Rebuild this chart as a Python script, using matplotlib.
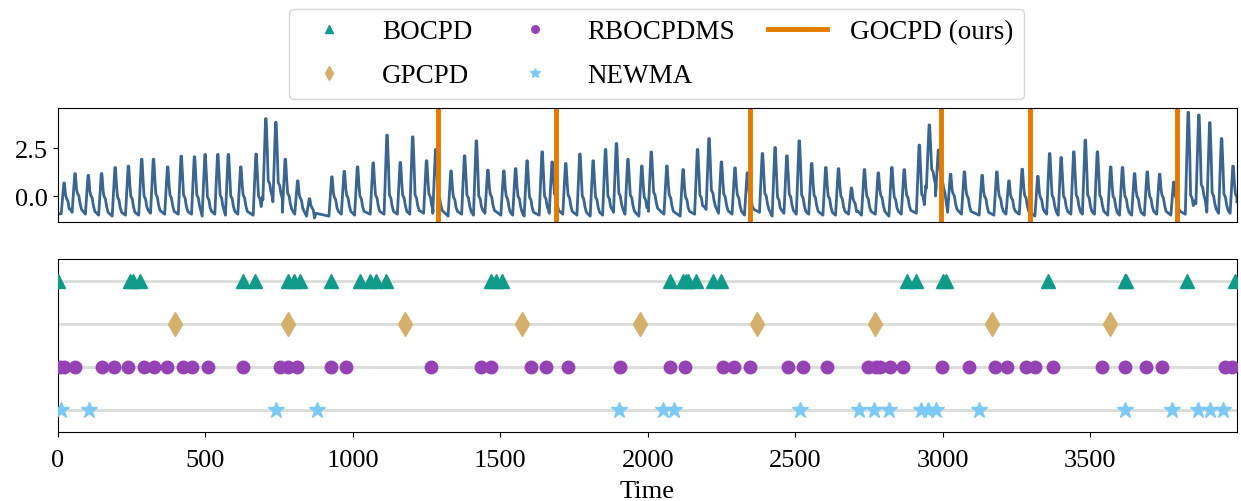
import numpy as np
import matplotlib.pyplot as plt
from matplotlib.lines import Line2D

plt.rcParams['font.family'] = ['Liberation Serif', 'DejaVu Serif']
plt.rcParams['font.size'] = 19

### Data

# daily peaks of the series (time, peak value, trough value just before the peak)
peak_time = [21, 58, 103, 148, 194, 239, 284, 324, 372, 418, 463, 499, 542, 578, 620, 672,
             705, 739, 771, 813, 853, 929, 971, 1016, 1069, 1116, 1161, 1203, 1250, 1281,
             1333, 1379, 1419, 1458, 1512, 1552, 1591, 1642, 1676, 1722, 1770, 1815, 1857,
             1894, 1933, 1980, 2012, 2065, 2120, 2169, 2208, 2250, 2296, 2338, 2389, 2432,
             2472, 2514, 2556, 2604, 2647, 2691, 2735, 2782, 2828, 2870, 2921, 2955, 2986,
             3027, 3074, 3134, 3184, 3225, 3270, 3323, 3363, 3402, 3445, 3484, 3525, 3570,
             3610, 3651, 3694, 3736, 3784, 3833, 3869, 3906, 3946, 3985]
peak_value = [0.68, 1.17, 1.08, 1.17, 1.49, 1.56, 1.92, 1.92, 1.52, 2.08, 2.05, 2.17, 2.17,
              2.17, 1.52, 2.19, 4.04, 3.85, 1.92, 0.79, -0.14, 1.00, 1.29, 1.52, 1.73, 3.18,
              1.75, 3.09, 1.84, 2.43, 1.31, 2.10, 2.88, 1.35, 1.31, 1.43, 1.84, 2.31, 1.78,
              1.70, 2.19, 1.84, 2.43, 2.74, 1.92, 1.57, 2.30, 1.57, 1.38, 2.43, 3.00, 1.78,
              1.47, 1.21, 2.22, 2.53, 2.10, 2.88, 1.70, 1.49, 1.43, 0.42, 1.38, 1.21, 1.49,
              1.38, 2.66, 3.71, 2.40, 1.14, 1.26, 1.08, 1.26, 0.79, 1.40, 1.03, 2.22, 2.01,
              2.31, 2.92, 2.31, 1.52, 1.49, 1.17, 1.26, 1.14, 0.73, 4.37, 4.23, 3.83, 3.00, 1.56]
trough_value = [-0.93, -0.85, -0.95, -1.0, -1.05, -1.0, -1.0, -0.9, -0.95, -0.95, -0.95, -1.05,
                -0.95, -1.0, -0.95, -1.0, -0.2, -0.3, -0.85, -0.95, -1.05, -1.05, -0.95, -1.0,
                -0.95, -0.95, -0.95, -0.95, -0.9, -0.9, -1.05, -0.95, -1.0, -0.9, -1.0, -1.0,
                -1.05, -1.0, -0.9, -0.95, -1.0, -1.05, -1.0, -0.85, -0.95, -1.05, -0.8, -0.95,
                -1.05, -0.95, -0.7, -0.9, -0.95, -1.0, -0.85, -1.05, -0.9, -0.95, -0.95, -1.0,
                -1.0, -0.95, -1.0, -0.95, -1.05, -0.95, -0.9, 0.4, 0.0, -0.85, -0.95, -1.0,
                -1.0, -0.95, -0.95, -1.05, -0.95, -1.0, -0.95, -0.95, -0.95, -1.0, -1.0, -1.0,
                -1.0, -0.95, -1.0, -0.95, -0.4, -0.84, -0.9, -0.9]
series_end = (3998, -0.3)

gocpd_cp = [1290, 1688, 2346, 2995, 3297, 3796]

bocpd_cp = [0, 244, 256, 278, 629, 669, 779, 799, 822, 927, 1025, 1059, 1080, 1113, 1467,
            1484, 1507, 2076, 2118, 2129, 2137, 2163, 2220, 2248, 2879, 2910, 3000, 3012,
            3359, 3617, 3623, 3829, 3991]
gpcpd_cp = [397, 780, 1176, 1575, 1974, 2372, 2771, 3168, 3568]
rbocpdms_cp = [7, 20, 58, 148, 191, 237, 292, 326, 371, 423, 456, 510, 626, 754, 780, 810,
               927, 977, 1265, 1433, 1467, 1603, 1656, 1731, 1906, 2076, 2126, 2254, 2291,
               2347, 2474, 2527, 2608, 2746, 2774, 2788, 2823, 2866, 2998, 3089, 3179, 3219,
               3284, 3315, 3376, 3542, 3620, 3690, 3744, 3957, 3982]
newma_cp = [12, 106, 739, 878, 1903, 2052, 2089, 2517, 2718, 2768, 2819, 2927, 2952, 2978,
            3125, 3620, 3778, 3866, 3906, 3951]

methods = ['BOCPD', 'GPCPD', 'RBOCPDMS', 'NEWMA']
method_cp = [bocpd_cp, gpcpd_cp, rbocpdms_cp, newma_cp]
method_row = [4, 3, 2, 1]
method_marker = ['^', 'd', 'o', '*']
method_ms = [10, 12, 9, 12]
method_color = ['#0f9a8a', '#d4b06c', '#9542b4', '#7dc9f6']
gocpd_color = '#e47a00'
line_color = '#3a6590'

### Line vertices from the peak list
t_pts, v_pts = [0], [trough_value[0]]
for i in range(len(peak_time)):
    tp, vp, lo = peak_time[i], peak_value[i], trough_value[i]
    nxt = trough_value[i + 1] if i + 1 < len(trough_value) else series_end[1]
    sh = min(lo + 1.0, lo + 0.5 * (vp - lo))
    t_pts += [tp - 10, tp - 5, tp - 1, tp + 1, tp + 5, tp + 8, tp + 13, tp + 17, tp + 22]
    v_pts += [lo, lo + 0.55 * (vp - lo), vp, vp, lo + 0.6 * (vp - lo), sh, sh - 0.15,
              sh - 0.55, max(nxt, lo) + 0.15]
t_pts.append(series_end[0])
v_pts.append(series_end[1])
t_pts, v_pts = np.array(t_pts), np.array(v_pts)
keep = t_pts <= series_end[0]
t_pts, v_pts = t_pts[keep], v_pts[keep]

### Figure
fig = plt.figure(figsize=(12.41, 5.02), dpi=100)
ax1 = fig.add_axes([0.0467, 0.556, 0.950, 0.227])
ax2 = fig.add_axes([0.0467, 0.1375, 0.950, 0.3446])

ax1.plot(t_pts, v_pts, color=line_color, lw=2.0)
for cp in gocpd_cp:
    ax1.axvline(cp, color=gocpd_color, lw=3.5)
ax1.set_xlim(0, series_end[0])
ax1.set_ylim(-1.35, 4.6)
ax1.set_yticks([0, 2.5])
ax1.set_yticklabels(['0.0', '2.5'])
ax1.set_xticks([])

for k in range(len(methods)):
    ax2.axhline(method_row[k], color='#dcdedb', lw=2.2, zorder=1)
    ax2.plot(method_cp[k], [method_row[k]] * len(method_cp[k]), ls='none',
             marker=method_marker[k], ms=method_ms[k], color=method_color[k], zorder=3,
             clip_on=True)
ax2.set_xlim(0, series_end[0])
ax2.set_ylim(0.5, 4.5)
ax2.set_yticks([])
ax2.set_xticks([0, 500, 1000, 1500, 2000, 2500, 3000, 3500])
ax2.tick_params(axis='x', pad=9)
ax2.set_xlabel('Time', labelpad=6)

handles = []
for k in range(len(methods)):
    handles.append(Line2D([], [], ls='none', marker=method_marker[k], ms=method_ms[k] * 0.6,
                          color=method_color[k], label=methods[k]))
handles.append(Line2D([], [], color=gocpd_color, lw=3.5, label='GOCPD (ours)'))
fig.legend(handles=handles, loc='upper center', ncol=3,
           bbox_to_anchor=(0.529, 1.008), fontsize=19.5, frameon=True, fancybox=True,
           edgecolor='#cccccc', columnspacing=1.2, handlelength=2.2, handletextpad=0.85,
           labelspacing=0.7)

fig.savefig('out.png', dpi=100)
